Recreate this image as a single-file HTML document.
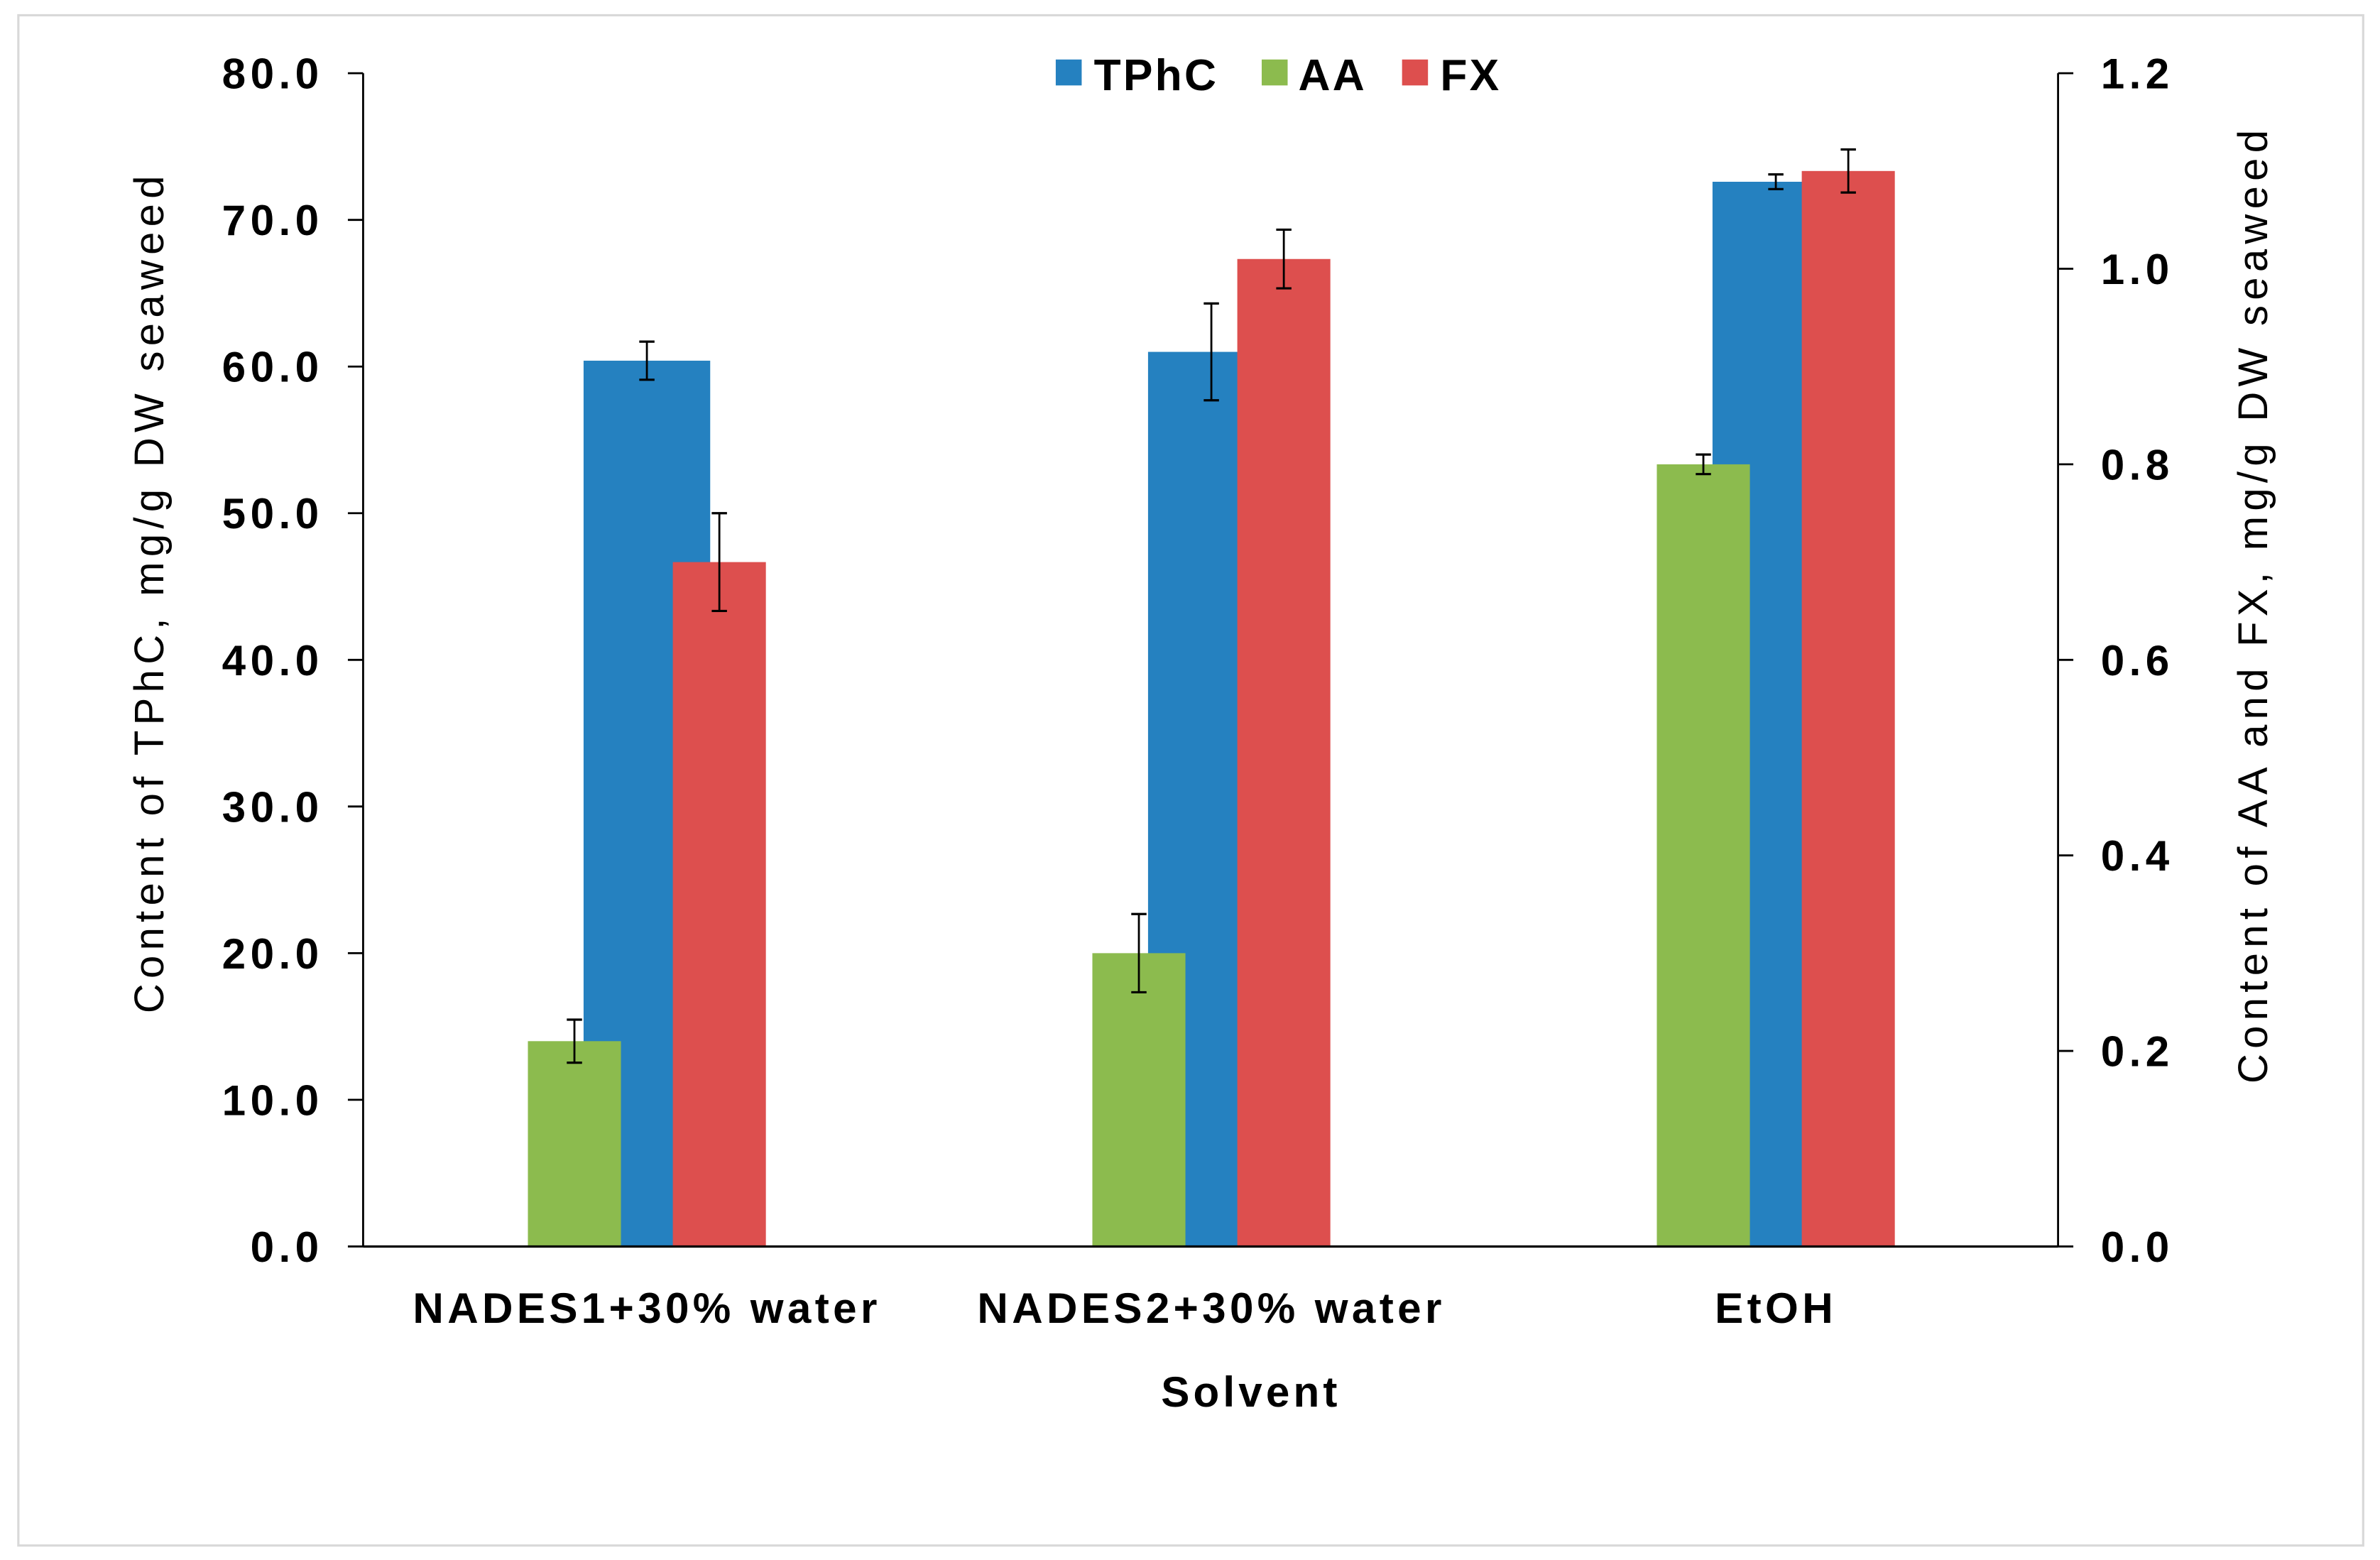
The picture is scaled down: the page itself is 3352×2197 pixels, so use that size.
<!DOCTYPE html>
<html><head><meta charset="utf-8"><style>
html,body{margin:0;padding:0;background:#fff}
svg{display:block}
text{font-family:"Liberation Sans",Arial,sans-serif;fill:#000}
</style></head><body>
<svg id="chart" width="3352" height="2197" viewBox="0 0 1560 1022.5" xmlns="http://www.w3.org/2000/svg">
<rect x="12" y="10" width="1537" height="1003" fill="#fff" stroke="#d9d9d9" stroke-width="1.5"/>
<g id="bars"></g>
<g id="axes"></g>
<g>
<rect x="692" y="39" width="17" height="17" fill="#2581c0"/>
<text x="717" y="59" font-size="29" font-weight="bold" letter-spacing="1.5">TPhC</text>
<rect x="827" y="39" width="17" height="17" fill="#8cbb4e"/>
<text x="851" y="59" font-size="29" font-weight="bold" letter-spacing="1.5">AA</text>
<rect x="919" y="39" width="17" height="17" fill="#dd4f4e"/>
<text x="944" y="59" font-size="29" font-weight="bold" letter-spacing="1.5">FX</text>
</g>
<text x="820" y="922" font-size="28" font-weight="bold" text-anchor="middle" letter-spacing="2.4">Solvent</text>
<text transform="translate(107,388) rotate(-90)" font-size="27" text-anchor="middle" letter-spacing="3.4">Content of TPhC, mg/g DW seaweed</text>
<text transform="translate(1486,396) rotate(-90)" font-size="27" text-anchor="middle" letter-spacing="3.4">Content of AA and FX, mg/g DW seaweed</text>
</svg>
<script>
const categories = ["NADES1+30% water","NADES2+30% water","EtOH"];
const tphc = [60.4, 61.0, 72.6];
const tphcErr = [1.3, 3.3, 0.5];
const aa = [0.21, 0.30, 0.80];
const aaErr = [0.022, 0.04, 0.01];
const fx = [0.70, 1.01, 1.10];
const fxErr = [0.05, 0.03, 0.022];
const leftTicks = ["0.0","10.0","20.0","30.0","40.0","50.0","60.0","70.0","80.0"];
const rightTicks = ["0.0","0.2","0.4","0.6","0.8","1.0","1.2"];

const NS="http://www.w3.org/2000/svg";
const X0=238, X1=1349, Y0=817, Y1=48;
const yL = v => Y0 - (v/80)*(Y0-Y1);
const yR = v => Y0 - (v/1.2)*(Y0-Y1);
const xC = i => 424 + i*370;
function mk(tag, attrs, parent){const e=document.createElementNS(NS,tag);for(const k in attrs)e.setAttribute(k,attrs[k]);parent.appendChild(e);return e;}
const bars=document.getElementById('bars'), axes=document.getElementById('axes');
function errBar(x,yl,yh,name){
  const g=mk('g',{},bars);
  
  
  mk('line',{x1:x,x2:x,y1:yl,y2:yh,stroke:'#000','stroke-width':1.3},g);
  mk('line',{x1:x-5,x2:x+5,y1:yl,y2:yl,stroke:'#000','stroke-width':1.5},g);
  mk('line',{x1:x-5,x2:x+5,y1:yh,y2:yh,stroke:'#000','stroke-width':1.5},g);
}
categories.forEach((c,i)=>{
  const cx=xC(i);
  const b=mk('rect',{x:cx-41.5,y:yL(tphc[i]),width:83,height:Y0-yL(tphc[i]),fill:'#2581c0'},bars);
  
  
});
categories.forEach((c,i)=>{
  const cx=xC(i);
  const a=mk('rect',{x:cx-78,y:yR(aa[i]),width:61,height:Y0-yR(aa[i]),fill:'#8cbb4e'},bars);
  
  
  const f=mk('rect',{x:cx+17,y:yR(fx[i]),width:61,height:Y0-yR(fx[i]),fill:'#dd4f4e'},bars);
  
  
});
categories.forEach((c,i)=>{
  const cx=xC(i);
  errBar(cx,yL(tphc[i]-tphcErr[i]),yL(tphc[i]+tphcErr[i]),'error-bar-tphc-'+(i+1));
  errBar(cx-47.5,yR(aa[i]-aaErr[i]),yR(aa[i]+aaErr[i]),'error-bar-aa-'+(i+1));
  errBar(cx+47.5,yR(fx[i]-fxErr[i]),yR(fx[i]+fxErr[i]),'error-bar-fx-'+(i+1));
  const t=mk('text',{x:cx,y:867,'font-size':28,'font-weight':'bold','text-anchor':'middle','letter-spacing':2.5},axes);
  t.textContent=c;
  
  
});
const la=mk('line',{x1:X0,x2:X0,y1:Y1,y2:Y0,stroke:'#000','stroke-width':1.3},axes);


const ra=mk('line',{x1:X1,x2:X1,y1:Y1,y2:Y0,stroke:'#000','stroke-width':1.3},axes);


const xa=mk('line',{x1:X0,x2:X1,y1:Y0,y2:Y0,stroke:'#000','stroke-width':1.5},axes);


leftTicks.forEach(t=>{
  const y=yL(parseFloat(t));
  mk('line',{x1:X0-10,x2:X0,y1:y,y2:y,stroke:'#000','stroke-width':1.3},axes);
  const e=mk('text',{x:212,y:y+10,'font-size':28,'font-weight':'bold','text-anchor':'end','letter-spacing':3},axes);
  e.textContent=t;
  
  
});
rightTicks.forEach(t=>{
  const y=yR(parseFloat(t));
  mk('line',{x1:X1,x2:X1+10,y1:y,y2:y,stroke:'#000','stroke-width':1.3},axes);
  const e=mk('text',{x:1377,y:y+10,'font-size':28,'font-weight':'bold','letter-spacing':3},axes);
  e.textContent=t;
  
  
});
</script>
</body></html>
